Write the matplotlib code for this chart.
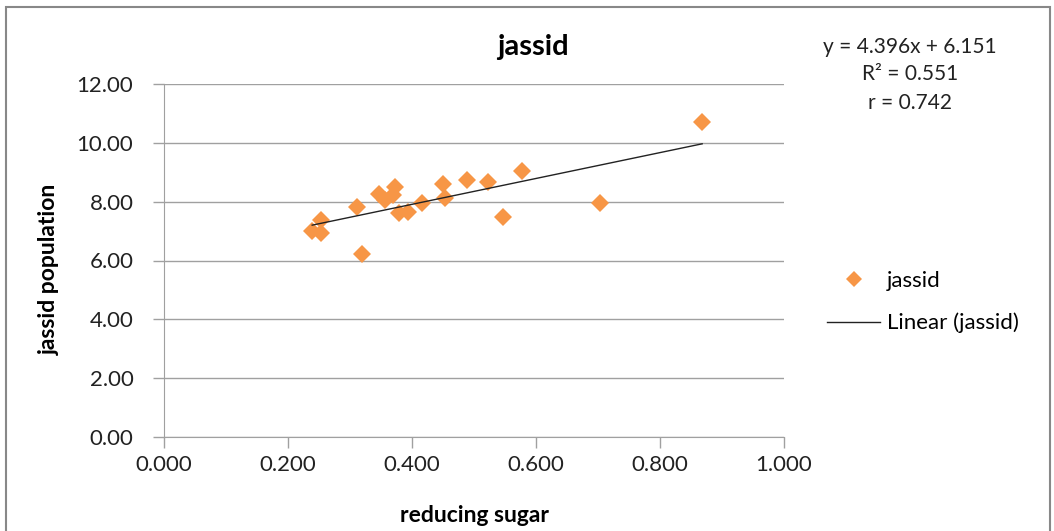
import numpy as np
import matplotlib.pyplot as plt
from matplotlib.patches import Rectangle
from matplotlib.lines import Line2D

plt.rcParams['font.family'] = ['Lato', 'DejaVu Sans']

# data
sugar = [0.239, 0.253, 0.253, 0.312, 0.320, 0.347, 0.356, 0.373, 0.370, 0.379,
         0.394, 0.416, 0.450, 0.453, 0.488, 0.523, 0.546, 0.577, 0.704, 0.868]
jassid = [7.01, 7.38, 6.92, 7.83, 6.21, 8.26, 8.06, 8.49, 8.23, 7.62,
          7.66, 7.96, 8.59, 8.11, 8.74, 8.66, 7.49, 9.04, 7.94, 10.70]
slope = 4.396
intercept = 6.151
r2 = 0.551
r = 0.742

orange = '#F79646'
grid = '#A0A0A0'

fig = plt.figure(figsize=(10.54, 5.31), dpi=100)
ax = fig.add_axes([164/1054, 1-437/531, 620/1054, 353/531])

ax.plot(sugar, jassid, 'D', color=orange, markersize=9.5, markeredgewidth=0, zorder=3)
xs = np.array([min(sugar), max(sugar)])
ax.plot(xs, slope*xs + intercept, color='#222222', linewidth=1, zorder=4)

ax.set_xlim(0, 1)
ax.set_ylim(0, 12)
ax.set_xticks(np.arange(0, 1.01, 0.2))
ax.set_yticks(np.arange(0, 12.1, 2))
ax.set_xticklabels(['%.3f' % v for v in np.arange(0, 1.01, 0.2)])
ax.set_yticklabels(['%.2f' % v for v in np.arange(0, 12.1, 2)])
ax.tick_params(labelsize=16, colors=grid, labelcolor='#222222', length=8, width=1, direction='out')
ax.tick_params(axis='y', pad=14)
ax.tick_params(axis='x', pad=5)
ax.yaxis.grid(True, color=grid, linewidth=1)
ax.set_axisbelow(True)
for s in ['top', 'right']:
    ax.spines[s].set_visible(False)
for s in ['left', 'bottom']:
    ax.spines[s].set_color(grid)

fig.text(533/1054, 1-47/531, 'jassid', ha='center', va='center', fontsize=21, fontweight='bold')
fig.text(474/1054, 1-516/531, 'reducing sugar', ha='center', va='center', fontsize=16.5, fontweight='bold')
fig.text(49/1054, 1-269/531, 'jassid population', ha='center', va='center', rotation=90, fontsize=16.5, fontweight='bold')

fig.text(910/1054, 1-47/531, 'y = %.3fx + %.3f' % (slope, intercept), ha='center', va='center', fontsize=15, color='#222222')
fig.text(910/1054, 1-74/531, 'R² = %.3f' % r2, ha='center', va='center', fontsize=15, color='#222222')
fig.text(910/1054, 1-103/531, 'r = %.3f' % r, ha='center', va='center', fontsize=15, color='#222222')

handles = [Line2D([], [], marker='D', color=orange, linestyle='none', markersize=8, markeredgewidth=0),
           Line2D([], [], color='#222222', linewidth=1)]
fig.legend(handles, ['jassid', 'Linear (jassid)'], loc='center left',
           bbox_to_anchor=(807/1054, 1-302/531), frameon=False, fontsize=16,
           handlelength=2.4, labelspacing=1.0, handletextpad=0.3)

fig.patches.append(Rectangle((6/1054, -0.02), 1044/1054, 1-7/531+0.02,
                             transform=fig.transFigure, fill=False, edgecolor='#888888', linewidth=1.5))

fig.savefig('out.png', dpi=100)
